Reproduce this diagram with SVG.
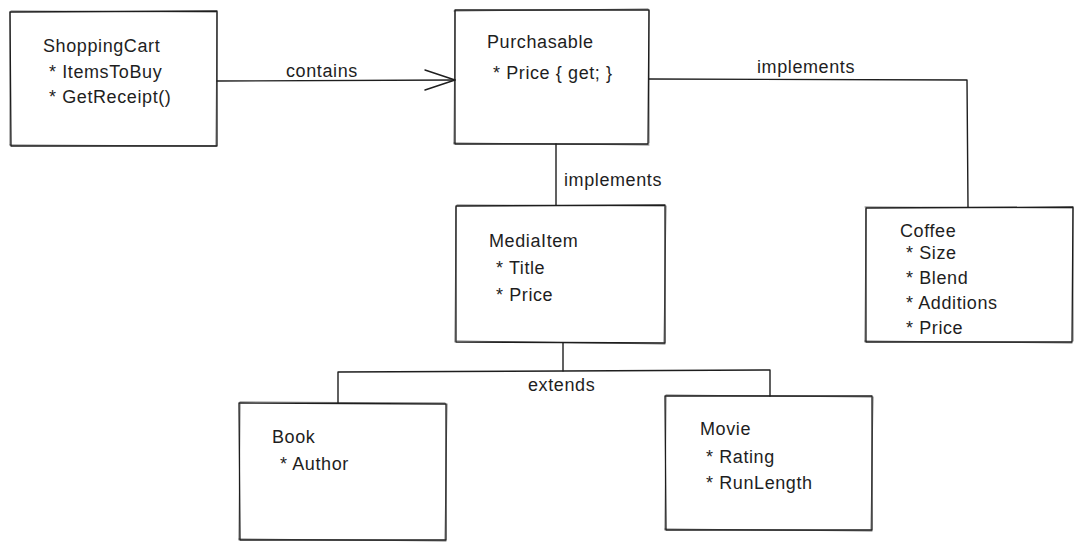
<svg xmlns="http://www.w3.org/2000/svg" width="1082" height="547" viewBox="0 0 1082 547">
  <style>
    .bg { fill: #ffffff; }
    .box { fill: none; stroke: #1e1e1e; stroke-width: 1.3; stroke-linecap: round; stroke-linejoin: round; }
    .box2 { fill: none; stroke: #1e1e1e; stroke-width: 0.8; stroke-linecap: round; opacity: 0.8; }
    .edge { fill: none; stroke: #1e1e1e; stroke-width: 1.4; stroke-linecap: round; stroke-linejoin: round; }
    .txt { font-family: "Liberation Sans", "DejaVu Sans", sans-serif; font-size: 18px; fill: #1e1e1e; letter-spacing: 0.6px; }
  </style>
  <rect class="bg" x="0" y="0" width="1082" height="547"/>

  <!-- connectors -->
  <g id="connectors">
    <!-- ShoppingCart contains Purchasable -->
    <path class="edge" d="M217 81 L455 80"/>
    <path class="edge" d="M425 70 L455 80 L425 90"/>
    <text class="txt" x="286" y="77">contains</text>

    <!-- Coffee implements Purchasable -->
    <path class="edge" d="M649 79 L967 80 L968 207"/>
    <text class="txt" x="757" y="73">implements</text>

    <!-- MediaItem implements Purchasable -->
    <path class="edge" d="M556 144 L556 205"/>
    <text class="txt" x="564" y="186">implements</text>

    <!-- Book / Movie extend MediaItem -->
    <path class="edge" d="M563 343 L563 371"/>
    <path class="edge" d="M338 403 L338 372 L563 371 L770 370 L770 396"/>
    <text class="txt" x="528" y="391">extends</text>
  </g>

  <!-- ShoppingCart -->
  <g id="shopping-cart">
    <path class="box" d="M10 12 L217 11 L217 146 L11 146 Z"/>
    <path class="box2" d="M11 11 L216 12 M217 12 L216 145 M216 146 L10 145 M10 145 L10 12"/>
    <text class="txt" x="43" y="52">ShoppingCart</text>
    <text class="txt" x="49" y="78">* ItemsToBuy</text>
    <text class="txt" x="49" y="103">* GetReceipt()</text>
  </g>

  <!-- Purchasable -->
  <g id="purchasable">
    <path class="box" d="M455 10 L649 10 L648 144 L455 144 Z"/>
    <path class="box2" d="M454 11 L648 9 M649 11 L649 143 M649 145 L454 143 M454 144 L455 11"/>
    <text class="txt" x="487" y="48">Purchasable</text>
    <text class="txt" x="493" y="79">* Price { get; }</text>
  </g>

  <!-- MediaItem -->
  <g id="media-item">
    <path class="box" d="M456 206 L665 205 L665 343 L456 342 Z"/>
    <path class="box2" d="M457 205 L664 206 M666 206 L664 342 M665 344 L457 341 M455 342 L456 207"/>
    <text class="txt" x="489" y="247">MediaItem</text>
    <text class="txt" x="496" y="274">* Title</text>
    <text class="txt" x="496" y="301">* Price</text>
  </g>

  <!-- Coffee -->
  <g id="coffee">
    <path class="box" d="M866 208 L1073 207 L1072 342 L866 342 Z"/>
    <path class="box2" d="M865 207 L1072 208 M1073 208 L1073 341 M1072 343 L865 341 M865 342 L866 209"/>
    <text class="txt" x="900" y="237">Coffee</text>
    <text class="txt" x="906" y="259">* Size</text>
    <text class="txt" x="906" y="284">* Blend</text>
    <text class="txt" x="906" y="309">* Additions</text>
    <text class="txt" x="906" y="334">* Price</text>
  </g>

  <!-- Book -->
  <g id="book">
    <path class="box" d="M239 403 L446 404 L446 540 L240 540 Z"/>
    <path class="box2" d="M240 402 L445 403 M447 404 L445 539 M446 541 L239 539 M239 540 L240 404"/>
    <text class="txt" x="272" y="443">Book</text>
    <text class="txt" x="280" y="470">* Author</text>
  </g>

  <!-- Movie -->
  <g id="movie">
    <path class="box" d="M665 396 L872 396 L872 530 L666 530 Z"/>
    <path class="box2" d="M666 395 L871 397 M873 397 L871 529 M872 531 L665 529 M665 530 L666 397"/>
    <text class="txt" x="700" y="435">Movie</text>
    <text class="txt" x="706" y="463">* Rating</text>
    <text class="txt" x="706" y="489">* RunLength</text>
  </g>
</svg>
